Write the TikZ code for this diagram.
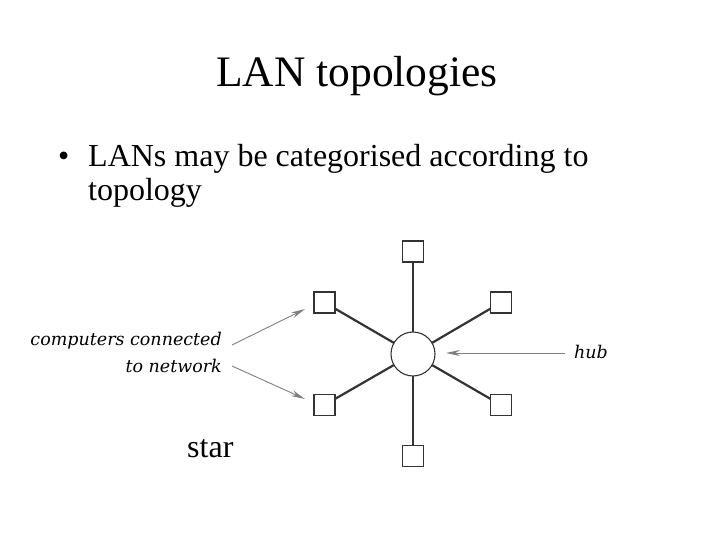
\documentclass[tikz,border=0pt]{standalone}
\usepackage{fontspec}
\setmainfont{Liberation Serif}
\newfontfamily\labelfont{DejaVu Serif}
\usetikzlibrary{arrows.meta,backgrounds}
\tikzset{
  pc/.style={draw=black!80, line width=1.2pt, minimum size=21pt, inner sep=0pt, fill=white},
  hubc/.style={draw=black!80, line width=1.1pt, circle, minimum size=44pt, inner sep=0pt, fill=white},
  link/.style={line width=2.2pt, draw=black!80},
  pointer/.style={draw=black!50, line width=0.9pt, -{Stealth[length=14pt,width=6pt]}},
  lbl/.style={font=\labelfont\itshape\fontsize{17.5}{20}\selectfont, inner sep=0pt},
  body/.style={font=\fontsize{32}{36}\selectfont, anchor=base west, inner sep=0pt},
}
\begin{document}
\begin{tikzpicture}[x=1pt,y=-1pt]
\useasboundingbox (0,0) rectangle (720,540);
\node[font=\fontsize{43.5}{48}\selectfont, anchor=base, inner sep=0pt] (title) at (357,87) {LAN topologies};
\node[body] (bullet) at (58,167) {\textbullet};
\node[body] (txt1) at (88,167) {LANs may be categorised according to};
\node[body] (txt2) at (88,201) {topology};
\node[body] (star) at (187,457) {star};

\node[hubc] (hub) at (413,354) {};
\node[pc] (top) at (413,251.5) {};
\node[pc] (ul) at (324.5,302.5) {};
\node[pc] (ur) at (501,302.5) {};
\node[pc] (ll) at (324.5,405) {};
\node[pc] (lr) at (501,405) {};
\node[pc] (bot) at (413,456) {};
\begin{scope}[on background layer]
\foreach \s in {top,ul,ur,ll,lr,bot} \draw[link] (hub.center) -- (\s.center);
\end{scope}

\node[lbl, anchor=base east] (comp1) at (222,345) {computers connected};
\node[lbl, anchor=base east] (comp2) at (222,372) {to network};
\node[lbl, anchor=base west] (hublbl) at (574,358) {hub};

\coordinate (a1s) at (232,345);
\coordinate (a1e) at (305,309);
\coordinate (a2s) at (232,366);
\coordinate (a2e) at (305,399);
\coordinate (hs) at (565,353);
\coordinate (he) at (446,353);
\draw[pointer] (a1s) -- (a1e);
\draw[pointer] (a2s) -- (a2e);
\draw[pointer] (hs) -- (he);
\end{tikzpicture}
\end{document}
